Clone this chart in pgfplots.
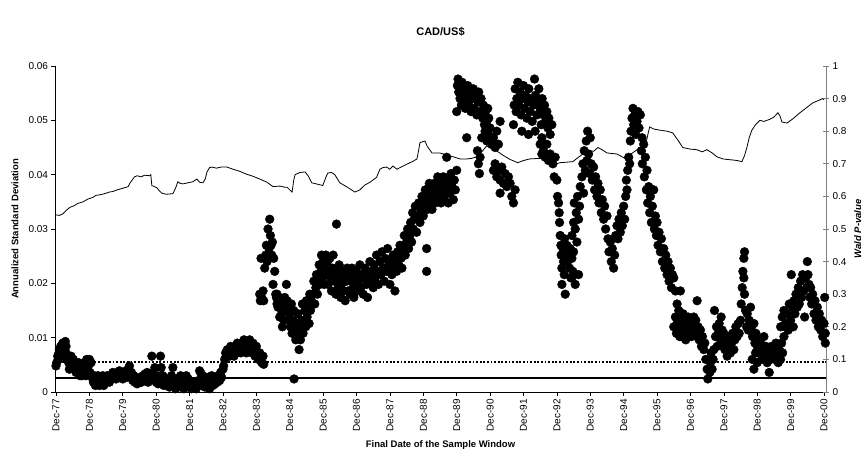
\documentclass[border=0pt]{standalone}
\usepackage{pgfplots}
\pgfplotsset{compat=1.18}
\usepackage{fontspec}
\setmainfont{Liberation Sans}
\begin{document}
\begin{tikzpicture}
\useasboundingbox (-55pt,-58pt) rectangle (809pt,392pt);
\begin{axis}[
  scale only axis, width=771pt, height=326pt,
  xmin=-0.03, xmax=23.06, ymin=0, ymax=0.06,
  axis y line*=left, axis x line*=bottom,
  axis line style={black, line width=0.6pt, -},
  tick style={black, line width=0.6pt},
  tick align=outside, major tick length=3.5pt,
  scaled y ticks=false,
  xtick={0,1,...,23},
  xticklabels={Dec-77,Dec-78,Dec-79,Dec-80,Dec-81,Dec-82,Dec-83,Dec-84,Dec-85,Dec-86,Dec-87,Dec-88,Dec-89,Dec-90,Dec-91,Dec-92,Dec-93,Dec-94,Dec-95,Dec-96,Dec-97,Dec-98,Dec-99,Dec-00},
  x tick label style={rotate=90, anchor=east, font=\fontsize{10}{12}\selectfont},
  ytick={0,0.01,0.02,0.03,0.04,0.05,0.06},
  yticklabels={0,0.01,0.02,0.03,0.04,0.05,0.06},
  y tick label style={font=\fontsize{10}{12}\selectfont},
  xlabel={\textbf{Final Date of the Sample Window}},
  xlabel style={at={(axis description cs:0.5,-0.1626)}, anchor=center, font=\fontsize{9.5}{11}\selectfont},
  ylabel={\textbf{Annualized Standard Deviation}},
  ylabel style={at={(axis description cs:-0.052,0.5)}, anchor=center, font=\fontsize{9.5}{11}\selectfont},
  title={\textbf{CAD/US\$}},
  title style={at={(axis description cs:0.5,1.086)}, anchor=center, font=\fontsize{11}{13}\selectfont},
  clip=false,
]
\addplot[black, line width=0.8pt, mark=none] coordinates {
(0,0.0326)(0.1,0.0325)(0.21,0.0328)(0.3,0.0334)(0.42,0.034)(0.55,0.0343)(0.65,0.0347)(0.81,0.035)(0.95,0.0355)(1.1,0.0358)(1.2,0.0362)(1.32,0.0363)(1.45,0.0365)(1.6,0.0368)(1.7,0.0369)(1.83,0.0372)(2.0,0.0375)(2.16,0.0378)(2.22,0.0385)(2.28,0.039)(2.35,0.0396)(2.43,0.0398)(2.55,0.0396)(2.65,0.0399)(2.81,0.0398)(2.84,0.04)(2.87,0.038)(2.95,0.0378)(3.02,0.0376)(3.1,0.037)(3.17,0.0366)(3.3,0.0364)(3.5,0.0365)(3.58,0.0375)(3.65,0.0387)(3.72,0.0384)(3.8,0.0383)(3.95,0.0385)(4.1,0.0387)(4.22,0.0392)(4.3,0.0386)(4.4,0.0385)(4.47,0.0392)(4.52,0.0405)(4.6,0.0413)(4.67,0.0414)(4.8,0.0412)(4.95,0.0414)(5.12,0.0414)(5.3,0.041)(5.51,0.0406)(5.7,0.0401)(5.9,0.0397)(6.1,0.0392)(6.32,0.0386)(6.5,0.0378)(6.7,0.0379)(6.85,0.0377)(6.92,0.0377)(7.0,0.0372)(7.07,0.0368)(7.12,0.039)(7.16,0.040)(7.3,0.0404)(7.46,0.0405)(7.55,0.0398)(7.66,0.0385)(7.8,0.0383)(7.99,0.038)(8.08,0.0395)(8.14,0.0403)(8.25,0.0404)(8.35,0.04)(8.5,0.0385)(8.7,0.0378)(8.95,0.0368)(9.1,0.0372)(9.25,0.0381)(9.4,0.0386)(9.49,0.039)(9.6,0.0395)(9.7,0.041)(9.79,0.0413)(9.9,0.0414)(10.0,0.041)(10.09,0.0416)(10.21,0.041)(10.4,0.0416)(10.6,0.0422)(10.7,0.0425)(10.81,0.0429)(10.86,0.0445)(10.9,0.0459)(11.05,0.0462)(11.12,0.0452)(11.26,0.044)(11.5,0.044)(11.7,0.0436)(11.89,0.0433)(12.1,0.0429)(12.31,0.0429)(12.45,0.043)(12.6,0.0433)(12.75,0.0442)(12.9,0.0453)(13.0,0.0449)(13.14,0.0446)(13.38,0.0436)(13.6,0.0428)(13.83,0.0422)(14.0,0.0426)(14.19,0.0429)(14.49,0.043)(14.73,0.043)(14.78,0.0423)(14.82,0.0416)(15.09,0.0422)(15.3,0.0423)(15.48,0.0424)(15.6,0.043)(15.78,0.0438)(15.99,0.0444)(16.1,0.0443)(16.23,0.045)(16.35,0.0446)(16.5,0.044)(16.8,0.0438)(17.04,0.043)(17.2,0.0437)(17.4,0.0446)(17.55,0.0452)(17.69,0.0464)(17.74,0.0478)(17.78,0.0488)(17.9,0.0484)(18.08,0.0482)(18.3,0.048)(18.47,0.0477)(18.55,0.047)(18.62,0.0464)(18.77,0.045)(19.0,0.0447)(19.19,0.0446)(19.35,0.0442)(19.49,0.0446)(19.65,0.044)(19.79,0.0433)(19.97,0.0429)(20.1,0.0428)(20.27,0.0427)(20.4,0.0426)(20.54,0.0424)(20.62,0.0435)(20.69,0.045)(20.76,0.0468)(20.84,0.0482)(20.95,0.0492)(21.08,0.05)(21.2,0.0498)(21.38,0.0502)(21.5,0.0506)(21.62,0.0514)(21.68,0.0508)(21.74,0.0497)(21.89,0.0495)(22.05,0.0502)(22.28,0.0514)(22.45,0.0522)(22.66,0.0532)(22.85,0.0537)(22.96,0.054)(23.0,0.0538)
};
\end{axis}
\begin{axis}[
  scale only axis, width=771pt, height=326pt,
  xmin=-0.03, xmax=23.06, ymin=0, ymax=1,
  axis y line*=right, axis x line=none,
  axis line style={gray, line width=0.8pt, -},
  tick style={gray, line width=0.8pt},
  tick align=center, major tick length=6pt,
  ytick={0,0.1,0.2,0.3,0.4,0.5,0.6,0.7,0.8,0.9,1},
  yticklabels={0,0.1,0.2,0.3,0.4,0.5,0.6,0.7,0.8,0.9,1},
  y tick label style={font=\fontsize{10}{12}\selectfont, black},
  ylabel={\textbf{\textit{Wald P-value}}},
  ylabel style={at={(axis description cs:1.041,0.5)}, anchor=center, font=\fontsize{9.5}{11}\selectfont},
  clip=false,
]
\addplot[black, line width=1.8pt, dash pattern=on 1.8pt off 1.8pt, mark=none] coordinates {(-0.03,0.092)(23.06,0.092)};
\addplot[black, line width=1.8pt, mark=none] coordinates {(-0.03,0.044)(23.06,0.044)};
\addplot[only marks, mark=*, mark size=4.4pt, black] coordinates {
(0.00,0.08)(0.02,0.09)(0.05,0.11)(0.07,0.10)(0.09,0.12)(0.1,0.13)(0.12,0.11)(0.14,0.14)(0.15,0.12)(0.18,0.13)(0.2,0.15)(0.22,0.14)(0.25,0.15)(0.28,0.155)(0.3,0.14)(0.3,0.12)(0.33,0.10)(0.35,0.11)(0.38,0.09)(0.4,0.07)(0.42,0.10)(0.45,0.11)(0.47,0.09)(0.5,0.08)(0.52,0.10)(0.55,0.07)(0.58,0.09)(0.6,0.06)(0.62,0.08)(0.65,0.07)(0.68,0.09)(0.7,0.06)(0.72,0.05)(0.75,0.07)(0.78,0.05)(0.8,0.06)(0.82,0.08)(0.85,0.09)(0.88,0.07)(0.9,0.05)(0.92,0.1)(0.95,0.06)(0.97,0.08)(1.0,0.1)(1.02,0.06)(1.05,0.09)(1.08,0.05)(1.1,0.04)
(1.12,0.03)(1.15,0.05)(1.18,0.02)(1.2,0.04)(1.23,0.03)(1.26,0.05)(1.3,0.02)(1.33,0.04)(1.36,0.03)(1.4,0.05)(1.43,0.02)(1.46,0.04)(1.5,0.03)(1.53,0.05)(1.56,0.04)(1.6,0.03)
(1.63,0.05)(1.66,0.04)(1.7,0.06)(1.73,0.045)(1.76,0.055)(1.8,0.04)(1.83,0.06)(1.86,0.05)(1.9,0.065)(1.93,0.045)(1.96,0.055)(2.0,0.04)(2.03,0.06)(2.06,0.05)(2.1,0.065)(2.13,0.045)(2.16,0.07)(2.2,0.08)(2.23,0.05)(2.26,0.06)(2.3,0.035)(2.33,0.05)(2.36,0.03)(2.4,0.045)(2.43,0.025)(2.46,0.04)(2.5,0.03)
(2.53,0.045)(2.56,0.03)(2.6,0.05)(2.63,0.035)(2.66,0.055)(2.7,0.04)(2.73,0.06)(2.76,0.03)(2.8,0.05)(2.83,0.045)(2.87,0.11)(2.9,0.06)(2.93,0.04)(2.96,0.075)(3.0,0.03)(3.03,0.05)(3.06,0.025)(3.1,0.04)(3.13,0.11)(3.15,0.075)(3.18,0.03)(3.2,0.05)(3.23,0.02)(3.26,0.04)(3.3,0.03)
(3.33,0.02)(3.36,0.04)(3.4,0.015)(3.43,0.03)(3.46,0.05)(3.5,0.075)(3.52,0.02)(3.55,0.035)(3.58,0.01)(3.6,0.025)(3.63,0.04)(3.66,0.015)(3.7,0.03)(3.73,0.05)(3.76,0.02)(3.8,0.035)(3.83,0.01)(3.86,0.03)(3.9,0.05)(3.93,0.02)(3.96,0.04)(4.0,0.015)(4.03,0.025)(4.06,0.01)(4.1,0.03)(4.13,0.015)(4.16,0.025)(4.2,0.01)(4.23,0.02)(4.26,0.035)
(4.3,0.065)(4.33,0.06)(4.35,0.04)(4.38,0.02)(4.4,0.05)(4.43,0.03)(4.46,0.015)(4.5,0.035)(4.53,0.02)(4.56,0.045)(4.6,0.01)(4.63,0.03)(4.66,0.05)(4.7,0.02)(4.73,0.04)(4.76,0.025)(4.8,0.045)(4.83,0.03)(4.86,0.05)(4.9,0.035)(4.93,0.06)(4.96,0.045)(5.0,0.07)
(5.02,0.08)(5.05,0.1)(5.08,0.12)(5.1,0.11)(5.13,0.13)(5.16,0.12)(5.2,0.11)(5.23,0.14)(5.26,0.12)(5.3,0.13)(5.33,0.11)(5.36,0.14)(5.4,0.12)(5.43,0.15)(5.46,0.13)(5.5,0.14)(5.53,0.12)(5.56,0.15)(5.6,0.13)(5.63,0.16)(5.66,0.14)(5.7,0.12)(5.73,0.15)(5.76,0.13)(5.8,0.16)(5.83,0.14)(5.86,0.12)(5.9,0.15)(5.93,0.13)(5.96,0.11)(6.0,0.14)(6.03,0.12)(6.06,0.1)(6.1,0.12)(6.13,0.1)(6.16,0.09)(6.2,0.11)(6.22,0.085)
(6.1,0.3)(6.12,0.28)(6.14,0.41)(6.16,0.29)(6.2,0.31)(6.22,0.28)(6.25,0.38)(6.28,0.42)(6.3,0.45)(6.32,0.40)(6.35,0.5)(6.38,0.44)(6.4,0.53)(6.42,0.48)(6.44,0.45)(6.46,0.42)(6.48,0.46)(6.5,0.33)(6.52,0.41)(6.55,0.37)(6.58,0.3)(6.6,0.29)(6.62,0.27)
(6.62,0.3)(6.65,0.26)(6.68,0.29)(6.7,0.23)(6.73,0.27)(6.76,0.24)(6.78,0.2)(6.8,0.26)(6.82,0.22)(6.85,0.29)(6.87,0.25)(6.9,0.33)(6.92,0.28)(6.95,0.22)(6.97,0.26)(7.0,0.24)(7.02,0.2)(7.05,0.27)(7.07,0.18)(7.1,0.22)(7.12,0.25)(7.13,0.04)(7.15,0.19)(7.18,0.16)(7.2,0.21)(7.22,0.17)(7.25,0.24)(7.28,0.13)(7.3,0.19)(7.32,0.16)(7.35,0.22)(7.38,0.27)(7.4,0.18)(7.42,0.21)(7.45,0.25)(7.48,0.2)(7.5,0.28)(7.52,0.23)(7.55,0.26)(7.58,0.21)(7.6,0.3)(7.62,0.25)(7.65,0.28)
(7.7,0.3)(7.72,0.34)(7.75,0.27)(7.78,0.32)(7.8,0.36)(7.83,0.3)(7.86,0.34)(7.88,0.39)(7.9,0.33)(7.93,0.37)(7.95,0.42)(7.98,0.35)(8.0,0.4)(8.03,0.33)(8.05,0.38)(8.08,0.42)(8.1,0.36)(8.13,0.4)(8.15,0.33)(8.18,0.37)(8.2,0.41)
(8.23,0.35)(8.25,0.31)(8.28,0.38)(8.3,0.42)(8.33,0.34)(8.35,0.37)(8.38,0.3)(8.4,0.515)(8.42,0.36)(8.45,0.32)(8.48,0.39)(8.5,0.35)(8.53,0.29)(8.55,0.33)(8.58,0.37)(8.6,0.31)(8.63,0.35)(8.66,0.28)(8.7,0.34)(8.72,0.38)(8.75,0.31)(8.78,0.36)(8.8,0.3)(8.83,0.34)(8.86,0.38)(8.9,0.32)(8.92,0.29)(8.95,0.35)(8.98,0.33)
(9.0,0.37)(9.03,0.31)(9.06,0.34)(9.1,0.39)(9.13,0.32)(9.16,0.36)(9.2,0.3)(9.23,0.35)(9.26,0.38)(9.3,0.33)(9.33,0.29)(9.36,0.36)(9.4,0.4)(9.43,0.34)(9.46,0.37)(9.5,0.32)(9.53,0.39)(9.56,0.35)(9.6,0.42)(9.63,0.37)(9.66,0.33)(9.7,0.4)
(9.73,0.36)(9.76,0.43)(9.8,0.38)(9.83,0.34)(9.86,0.41)(9.9,0.37)(9.93,0.44)(9.96,0.39)(10.0,0.33)(10.03,0.4)(10.06,0.36)(10.1,0.42)(10.13,0.38)(10.15,0.31)(10.18,0.41)(10.2,0.37)(10.23,0.43)(10.26,0.39)(10.3,0.45)(10.33,0.41)(10.36,0.38)(10.4,0.44)(10.43,0.48)(10.46,0.42)(10.5,0.46)(10.53,0.5)(10.56,0.44)(10.6,0.48)
(10.62,0.52)(10.65,0.46)(10.68,0.55)(10.7,0.5)(10.73,0.53)(10.76,0.57)(10.8,0.49)(10.83,0.54)(10.86,0.58)(10.9,0.52)(10.93,0.56)(10.96,0.6)(11.0,0.54)(11.03,0.58)(11.06,0.62)(11.1,0.44)(11.1,0.37)(11.12,0.56)(11.15,0.6)(11.18,0.64)(11.2,0.58)(11.23,0.62)(11.26,0.56)(11.3,0.6)(11.33,0.64)(11.36,0.58)(11.4,0.62)(11.43,0.66)(11.46,0.6)(11.5,0.64)(11.53,0.58)(11.56,0.62)(11.6,0.66)(11.63,0.6)(11.66,0.64)(11.7,0.72)(11.72,0.62)(11.75,0.58)(11.78,0.65)(11.8,0.61)(11.83,0.67)(11.86,0.63)(11.9,0.59)(11.93,0.65)(11.96,0.62)(12.0,0.68)
(12.0,0.86)(12.02,0.94)(12.04,0.96)(12.06,0.92)(12.08,0.95)(12.1,0.9)(12.12,0.93)(12.14,0.88)(12.16,0.95)(12.18,0.91)(12.2,0.94)(12.22,0.89)(12.24,0.92)(12.26,0.87)(12.28,0.93)(12.3,0.78)(12.3,0.9)(12.33,0.94)(12.36,0.88)(12.4,0.92)(12.43,0.86)(12.46,0.9)(12.5,0.93)(12.53,0.87)(12.56,0.91)(12.6,0.85)(12.63,0.89)(12.66,0.92)(12.7,0.86)(12.73,0.9)(12.75,0.78)(12.78,0.84)(12.8,0.88)(12.83,0.82)(12.86,0.86)(12.9,0.83)(12.93,0.87)(12.96,0.84)
(12.62,0.74)(12.65,0.7)(12.68,0.67)(12.7,0.72)(12.85,0.8)(12.9,0.77)(12.95,0.79)(13.0,0.81)(13.05,0.76)(13.1,0.78)(13.15,0.75)(13.2,0.8)(13.25,0.76)(13.3,0.83)
(13.1,0.68)(13.15,0.7)(13.2,0.66)(13.25,0.68)(13.3,0.61)(13.3,0.65)(13.35,0.69)(13.4,0.64)(13.45,0.67)(13.5,0.63)(13.55,0.66)(13.6,0.64)(13.65,0.6)(13.7,0.58)(13.75,0.62)
(13.7,0.82)(13.72,0.88)(13.75,0.93)(13.78,0.86)(13.8,0.9)(13.83,0.95)(13.86,0.88)(13.9,0.92)(13.93,0.85)(13.96,0.9)(14.0,0.94)(14.03,0.87)(14.06,0.91)(14.1,0.84)(14.13,0.89)(14.16,0.93)(14.2,0.86)(14.23,0.9)(14.26,0.83)(14.3,0.88)(14.33,0.96)(14.36,0.91)(14.4,0.85)(14.43,0.89)(14.46,0.93)(14.5,0.87)(14.53,0.82)(14.56,0.9)(14.6,0.85)(14.63,0.88)(14.66,0.83)(14.7,0.86)(14.73,0.81)(14.76,0.84)(14.8,0.79)(14.85,0.82)(13.95,0.8)(14.15,0.79)(14.35,0.8)(14.55,0.78)
(14.5,0.76)(14.55,0.73)(14.6,0.74)(14.65,0.72)(14.7,0.76)(14.75,0.71)(14.8,0.73)(14.88,0.7)(14.92,0.66)(14.95,0.72)(15.0,0.65)(15.02,0.6)(15.05,0.58)(15.07,0.55)
(15.08,0.52)(15.1,0.48)(15.12,0.45)(15.13,0.42)(15.15,0.38)(15.15,0.33)(15.18,0.44)(15.2,0.4)(15.22,0.36)(15.25,0.3)(15.23,0.47)(15.27,0.42)(15.3,0.45)(15.32,0.4)(15.35,0.43)(15.38,0.38)(15.4,0.44)(15.42,0.35)(15.45,0.41)(15.48,0.37)(15.5,0.43)
(15.45,0.48)(15.5,0.52)(15.52,0.58)(15.55,0.5)(15.58,0.55)(15.6,0.46)(15.62,0.6)(15.65,0.53)(15.68,0.57)(15.7,0.63)(15.45,0.35)(15.55,0.33)(15.65,0.36)
(15.75,0.66)(15.78,0.7)(15.8,0.61)(15.82,0.74)(15.85,0.68)(15.88,0.77)(15.9,0.71)(15.92,0.8)(15.95,0.73)(15.98,0.67)(16.0,0.78)(16.03,0.7)(16.06,0.65)(16.1,0.69)(16.13,0.62)(16.16,0.66)(16.2,0.6)(16.23,0.64)
(16.26,0.58)(16.3,0.62)(16.33,0.55)(16.36,0.59)(16.4,0.53)(16.43,0.57)(16.46,0.5)(16.5,0.54)(16.53,0.47)(16.56,0.43)(16.6,0.46)(16.63,0.4)(16.66,0.44)(16.7,0.38)(16.73,0.42)(16.76,0.48)(16.8,0.51)(16.83,0.47)(16.86,0.53)(16.9,0.49)(16.93,0.55)(16.96,0.51)(17.0,0.57)(17.03,0.53)(17.06,0.6)(17.08,0.65)(17.1,0.62)(17.12,0.68)(17.15,0.72)(17.18,0.7)
(17.2,0.77)(17.22,0.8)(17.25,0.84)(17.28,0.87)(17.3,0.82)(17.33,0.85)(17.36,0.79)(17.4,0.83)(17.43,0.86)(17.46,0.81)(17.5,0.85)(17.55,0.78)(17.53,0.74)(17.56,0.7)(17.6,0.76)(17.62,0.66)(17.65,0.72)(17.68,0.62)(17.7,0.68)(17.72,0.58)(17.75,0.63)(17.78,0.55)(17.8,0.6)(17.83,0.52)(17.86,0.57)(17.9,0.62)(17.92,0.5)(17.95,0.54)(17.98,0.48)
(18.0,0.52)(18.03,0.45)(18.06,0.49)(18.1,0.43)(18.13,0.47)(18.16,0.4)(18.2,0.44)(18.23,0.38)(18.26,0.42)(18.3,0.36)(18.33,0.4)(18.36,0.34)(18.4,0.38)(18.43,0.32)(18.46,0.36)(18.5,0.35)(18.55,0.31)(18.6,0.27)(18.62,0.23)(18.65,0.2)(18.68,0.17)(18.7,0.31)
(18.5,0.2)(18.55,0.23)(18.58,0.18)(18.6,0.21)(18.65,0.25)(18.68,0.19)(18.7,0.22)(18.72,0.17)(18.75,0.2)(18.78,0.24)(18.8,0.18)(18.83,0.21)(18.86,0.16)(18.9,0.2)(18.93,0.23)(18.96,0.18)(19.0,0.21)(19.03,0.17)(19.06,0.2)(19.1,0.23)(19.13,0.19)(19.16,0.22)(19.2,0.28)(19.2,0.17)(19.23,0.2)(19.26,0.16)(19.3,0.19)(19.33,0.14)(19.36,0.17)(19.4,0.13)(19.43,0.15)(19.46,0.1)(19.5,0.07)(19.52,0.04)(19.55,0.1)(19.58,0.06)(19.6,0.09)(19.62,0.12)(19.65,0.07)(19.68,0.1)(19.7,0.13)
(19.72,0.25)(19.75,0.17)(19.78,0.2)(19.8,0.14)(19.83,0.18)(19.86,0.21)(19.9,0.16)(19.92,0.23)(19.95,0.19)(19.98,0.15)(20.0,0.18)(20.03,0.13)(20.06,0.16)(20.1,0.11)(20.13,0.14)(20.16,0.17)(20.2,0.12)(20.23,0.15)(20.26,0.18)(20.3,0.13)(20.33,0.16)(20.36,0.2)(20.4,0.17)(20.43,0.21)(20.46,0.18)(20.5,0.22)(20.52,0.27)(20.55,0.32)(20.57,0.37)(20.6,0.41)(20.62,0.43)(20.6,0.35)(20.62,0.3)(20.65,0.25)(20.68,0.2)(20.7,0.24)(20.73,0.19)(20.76,0.22)(20.8,0.26)(20.83,0.2)(20.86,0.17)(20.9,0.21)(20.93,0.15)(20.96,0.18)(21.0,0.14)
(20.85,0.1)(20.9,0.07)(20.95,0.12)(21.0,0.09)(21.05,0.16)(21.08,0.12)(21.1,0.15)(21.13,0.1)(21.16,0.13)(21.2,0.17)(21.23,0.11)(21.26,0.14)(21.3,0.09)(21.33,0.12)(21.36,0.06)(21.4,0.1)(21.43,0.14)(21.46,0.11)(21.5,0.13)(21.53,0.1)(21.56,0.15)(21.6,0.12)(21.63,0.09)(21.66,0.13)(21.7,0.1)(21.73,0.15)(21.76,0.12)(21.8,0.17)(21.83,0.2)
(21.7,0.2)(21.75,0.23)(21.8,0.25)(21.85,0.21)(21.9,0.24)(21.93,0.19)(21.96,0.27)(22.0,0.22)(22.02,0.36)(22.05,0.26)(22.08,0.2)(22.1,0.28)(22.13,0.24)(22.16,0.3)(22.2,0.26)(22.23,0.32)(22.26,0.27)(22.3,0.34)(22.33,0.29)(22.36,0.36)(22.4,0.31)(22.42,0.23)(22.45,0.35)(22.48,0.32)(22.5,0.4)(22.52,0.36)(22.55,0.33)(22.58,0.29)(22.6,0.32)(22.63,0.27)(22.66,0.3)(22.7,0.24)(22.73,0.28)(22.76,0.22)(22.8,0.26)(22.83,0.2)(22.86,0.24)(22.9,0.19)(22.93,0.22)(22.96,0.17)(23.0,0.21)(23.02,0.29)(23.04,0.15)(23.04,0.18)
};
\end{axis}
\end{tikzpicture}
\end{document}
